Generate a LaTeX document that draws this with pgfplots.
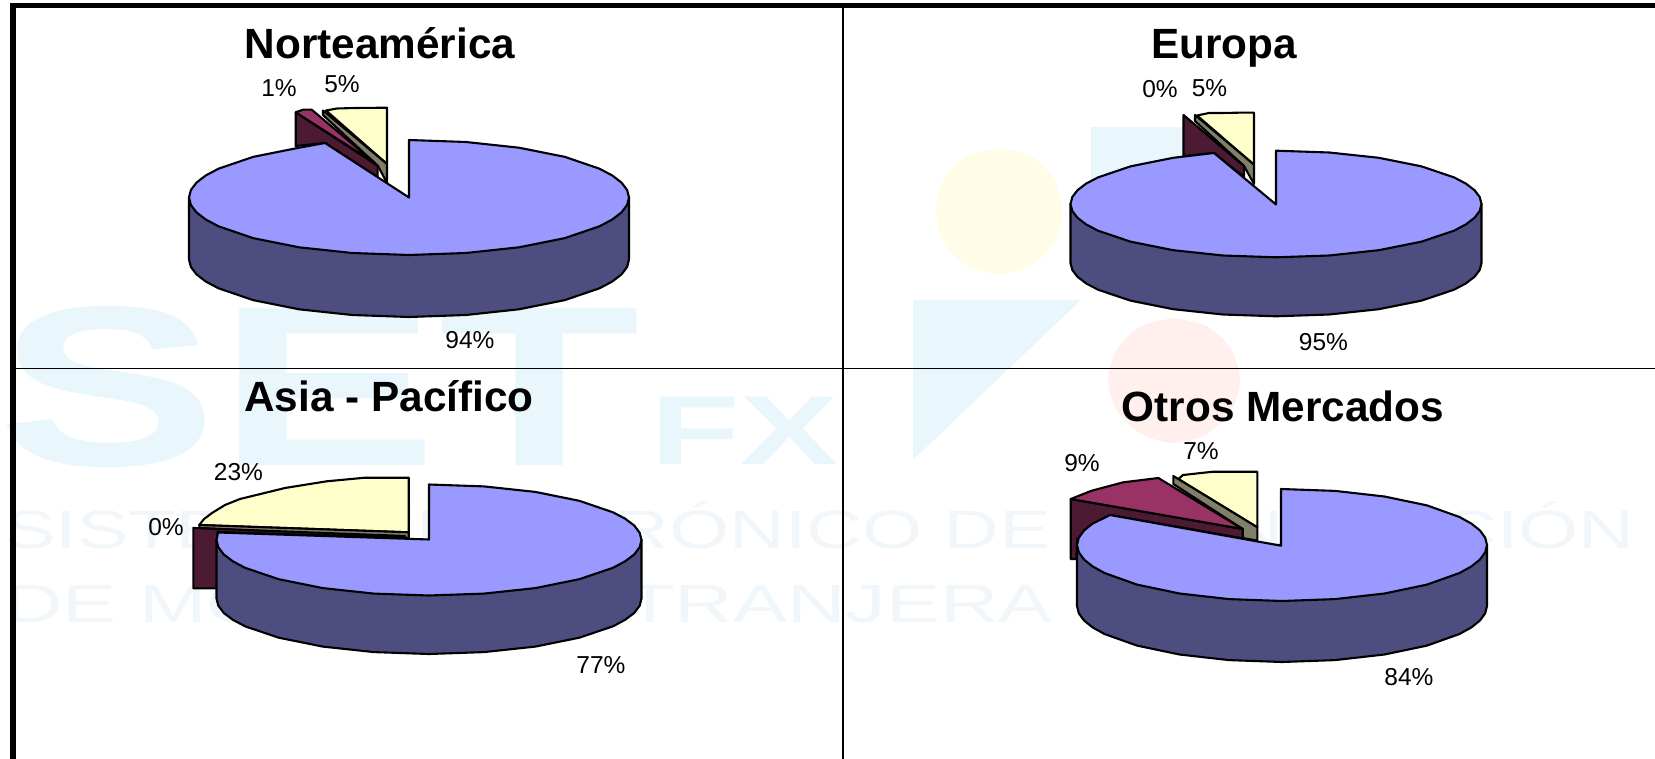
\documentclass[border=0pt]{standalone}
\usepackage{fontspec}
\setmainfont{Liberation Sans}
\usepackage{pgfplots}
\pgfplotsset{compat=1.18}

\definecolor{topblue}{HTML}{9999FF}
\definecolor{wallblue}{HTML}{4D4D80}
\definecolor{maroon}{HTML}{993366}
\definecolor{darkmaroon}{HTML}{4D1A33}
\definecolor{paleyellow}{HTML}{FFFFCC}
\definecolor{olive}{HTML}{80806A}
\definecolor{wmblue}{HTML}{E9F7FD}
\definecolor{wmgrey}{HTML}{F0F6F9}
\definecolor{wmyellow}{HTML}{FFFDE8}
\definecolor{wmred}{HTML}{FFF0EE}

\pgfplotsset{
  slice/.style={draw=black, line width=2.1pt, line join=round, mark=none, fill=#1},
  wm/.style={draw=none, mark=none, fill=#1},
  frame/.style={draw=black, mark=none, line width=#1},
}
\newcommand{\ttl}[3]{\node[anchor=base, font=\fontsize{42.3}{50}\selectfont\bfseries] at (axis cs:#1,#2) {#3};}
\newcommand{\pct}[3]{\node[anchor=base, font=\fontsize{24.5}{30}\selectfont] at (axis cs:#1,#2) {#3\%};}

\begin{document}
\begin{tikzpicture}
\begin{axis}[
  scale only axis,
  width=1655pt, height=760pt,
  xmin=0, xmax=1655,
  ymin=0, ymax=760,
  y dir=reverse,
  hide axis,
]
% watermark behind the pies
\addplot[wm=wmblue] coordinates {(913,301) (1081,301) (913,461)} -- cycle;
\addplot[wm=wmblue] coordinates {(1091,128) (1210,128) (1210,200) (1091,200)} -- cycle;
\addplot[wm=wmyellow, smooth] coordinates {(999,149) (1031,157) (1054,180) (1062,212) (1054,244) (1031,267) (999,275) (967,267) (944,244) (936,212) (944,180) (967,157) (999,149)};
\addplot[wm=wmred, smooth] coordinates {(1174,319) (1207,327) (1231,350) (1240,381) (1231,412) (1207,435) (1174,444) (1141,435) (1117,412) (1108,381) (1117,350) (1141,327) (1174,319)};
\node[anchor=base west, xscale=1.45, text=wmblue, font=\fontsize{228}{228}\selectfont\bfseries] at (axis cs:-8,466) {SET};
\node[anchor=base west, xscale=1.5, text=wmblue, font=\fontsize{98}{98}\selectfont\bfseries] at (axis cs:645,465) {FX};
\node[anchor=base west, xscale=1.43, inner sep=0pt, text=wmgrey, font=\fontsize{54}{54}\selectfont] at (axis cs:4,549) {SISTEMA ELECTRÓNICO DE TRANSACCIÓN};
\node[anchor=base west, xscale=1.5, inner sep=0pt, text=wmgrey, font=\fontsize{54}{54}\selectfont] at (axis cs:4,623) {DE MONEDA EXTRANJERA};

% frame and cell dividers
\addplot[frame=1.6pt] coordinates {(843,9) (843,760)};
\addplot[frame=1.6pt] coordinates {(16,369.5) (1655,369.5)};
\addplot[frame=6pt] coordinates {(13,4) (13,760)};
\addplot[frame=5pt] coordinates {(10,6.5) (1655,6.5)};

% Norteamerica
\addplot[slice=paleyellow] coordinates {(387,108.7) (355,109) (337,109.5) (326,111.5) (387,165)} -- cycle;
\addplot[slice=olive] coordinates {(323,111.5) (387,165) (387,184) (378,167) (323,116)} -- cycle;
\addplot[slice=darkmaroon] coordinates {(295.7,113.3) (377.6,166.7) (377.6,178) (325,144) (295.7,147)} -- cycle;
\addplot[slice=maroon] coordinates {(295.7,113.3) (303,110.7) (311.7,110.7) (375,164)} -- cycle;
\addplot[slice=wallblue] coordinates {(189,198.5) (189,260.5) (190.9,268) (196.5,275.4) (205.7,282.5) (218.5,289.3) (253.4,301.2) (299,310.3) (352.1,316) (409,318) (465.9,316) (519,310.3) (564.6,301.2) (599.5,289.3) (612.3,282.5) (621.5,275.4) (627.1,268) (629,260.5) (629,198.5)} -- cycle;
\addplot[slice=topblue] coordinates {(409,198.5) (409,141) (465.9,143) (519,148.7) (564.6,157.8) (599.5,169.7) (612.3,176.5) (621.5,183.6) (627.1,191) (629,198.5) (627.1,206) (621.5,213.4) (612.3,220.5) (599.5,227.3) (564.6,239.2) (519,248.3) (465.9,254) (409,256) (352.1,254) (299,248.3) (253.4,239.2) (218.5,227.3) (205.7,220.5) (196.5,213.4) (190.9,206) (189,198.5) (190.9,191) (196.5,183.6) (205.7,176.5) (218.5,169.7) (253.4,157.8) (299,148.7) (325,144)} -- cycle;
\ttl{380}{60}{Norteamérica}
\pct{279}{98}{1}
\pct{342}{94}{5}
\pct{470}{349}{94}

% Europa
\addplot[slice=paleyellow] coordinates {(1254,113.7) (1238,113.7) (1222,114) (1209,114) (1197,116.5) (1254,165.7)} -- cycle;
\addplot[slice=olive] coordinates {(1195,116) (1254,165.7) (1254,185) (1244,167) (1195,122)} -- cycle;
\addplot[slice=darkmaroon] coordinates {(1183.5,116) (1244,167) (1244,178) (1214,154) (1183.5,157)} -- cycle;
\addplot[slice=wallblue] coordinates {(1070.5,205) (1070.5,264) (1072.3,271) (1077.5,277.8) (1086.1,284.4) (1098,290.7) (1130.7,301.7) (1173.3,310.2) (1222.8,315.5) (1276,317.3) (1329.2,315.5) (1378.8,310.2) (1421.3,301.7) (1454,290.7) (1465.9,284.4) (1474.5,277.8) (1479.7,271) (1481.5,264) (1481.5,205)} -- cycle;
\addplot[slice=topblue] coordinates {(1276,205.5) (1276,151.7) (1329.2,153.5) (1378.8,158.8) (1421.3,167.3) (1454,178.4) (1465.9,184.6) (1474.5,191.2) (1479.7,198) (1481.5,205) (1479.7,212) (1474.5,218.8) (1465.9,225.4) (1454,231.7) (1421.3,242.7) (1378.8,251.2) (1329.2,256.5) (1276,258.3) (1222.8,256.5) (1173.3,251.2) (1130.7,242.7) (1098,231.7) (1086.1,225.4) (1077.5,218.8) (1072.3,212) (1070.5,205) (1072.3,198) (1077.5,191.2) (1086.1,184.6) (1098,178.4) (1130.7,167.3) (1173.3,158.8) (1214,154)} -- cycle;
\ttl{1224}{60}{Europa}
\pct{1160}{99}{0}
\pct{1209.5}{98}{5}
\pct{1323.5}{352}{95}

% Asia - Pacifico
\addplot[slice=paleyellow] coordinates {(408.7,478.7) (365,478.7) (326.7,482.3) (285,489) (240,500) (225,506) (212,514) (204,520) (199.3,526) (408.7,533.3)} -- cycle;
\addplot[slice=olive] coordinates {(199.3,526) (408.7,533.3) (408.7,539) (199.3,529)} -- cycle;
\addplot[slice=darkmaroon] coordinates {(193.3,529) (405,537) (405,539) (217.5,533) (217.5,589.3) (193.3,589.3)} -- cycle;
\addplot[slice=wallblue] coordinates {(216.5,541) (216.5,599.5) (218.3,606.7) (223.7,613.9) (232.7,620.7) (245,627.3) (278.7,638.7) (322.8,647.6) (374,653.1) (429,655) (484,653.1) (535.3,647.6) (579.3,638.7) (613,627.3) (625.3,620.7) (634.3,613.9) (639.7,606.7) (641.5,599.5) (641.5,541)} -- cycle;
\addplot[slice=topblue] coordinates {(429,540.5) (429,485.5) (484,487.4) (535.3,492.9) (579.3,501.8) (613,513.3) (625.3,519.8) (634.3,526.6) (639.7,533.8) (641.5,541) (639.7,548.2) (634.3,555.4) (625.3,562.2) (613,568.8) (579.3,580.2) (535.3,589.1) (484,594.6) (429,596.5) (374,594.6) (322.8,589.1) (278.7,580.2) (245,568.8) (232.7,562.2) (223.7,555.4) (218.3,548.2) (216.5,541) (218,533.5)} -- cycle;
\ttl{389}{412.5}{Asia - Pacífico}
\pct{238.5}{481}{23}
\pct{166}{536}{0}
\pct{601}{674}{77}

% Otros Mercados
\addplot[slice=paleyellow] coordinates {(1257.3,472.7) (1213,472.7) (1183,476) (1178.3,480) (1257.3,528.3)} -- cycle;
\addplot[slice=olive] coordinates {(1173.3,477) (1257.3,528.3) (1257.3,541.7) (1242.7,539) (1242.7,530) (1173.3,485)} -- cycle;
\addplot[slice=darkmaroon] coordinates {(1070.7,500) (1242.7,530) (1242.7,539.3) (1110,516) (1077,540) (1076.7,560) (1070.7,560)} -- cycle;
\addplot[slice=maroon] coordinates {(1070.7,500) (1091.7,491.7) (1123.3,483.3) (1158.3,479) (1242.7,530)} -- cycle;
\addplot[slice=wallblue] coordinates {(1077,546) (1077,607) (1078.8,614.3) (1084,621.5) (1092.6,628.4) (1104.5,635) (1137,646.6) (1179.5,655.5) (1228.9,661.1) (1282,663) (1335.1,661.1) (1384.5,655.5) (1427,646.6) (1459.5,635) (1471.4,628.4) (1480,621.5) (1485.2,614.3) (1487,607) (1487,546)} -- cycle;
\addplot[slice=topblue] coordinates {(1281,546.7) (1281,490) (1335.1,491.9) (1384.5,497.5) (1427,506.4) (1459.5,518) (1471.4,524.6) (1480,531.5) (1485.2,538.7) (1487,546) (1485.2,553.3) (1480,560.5) (1471.4,567.4) (1459.5,574) (1427,585.6) (1384.5,594.5) (1335.1,600.1) (1282,602) (1228.9,600.1) (1179.5,594.5) (1137,585.6) (1104.5,574) (1092.6,567.4) (1084,560.5) (1078.8,553.3) (1077,546) (1078.8,538.7) (1084,531.5) (1092.6,524.6) (1110,516)} -- cycle;
\ttl{1283}{422}{Otros Mercados}
\pct{1082}{472.7}{9}
\pct{1201}{460}{7}
\pct{1409}{686}{84}
\end{axis}
\end{tikzpicture}
\end{document}
